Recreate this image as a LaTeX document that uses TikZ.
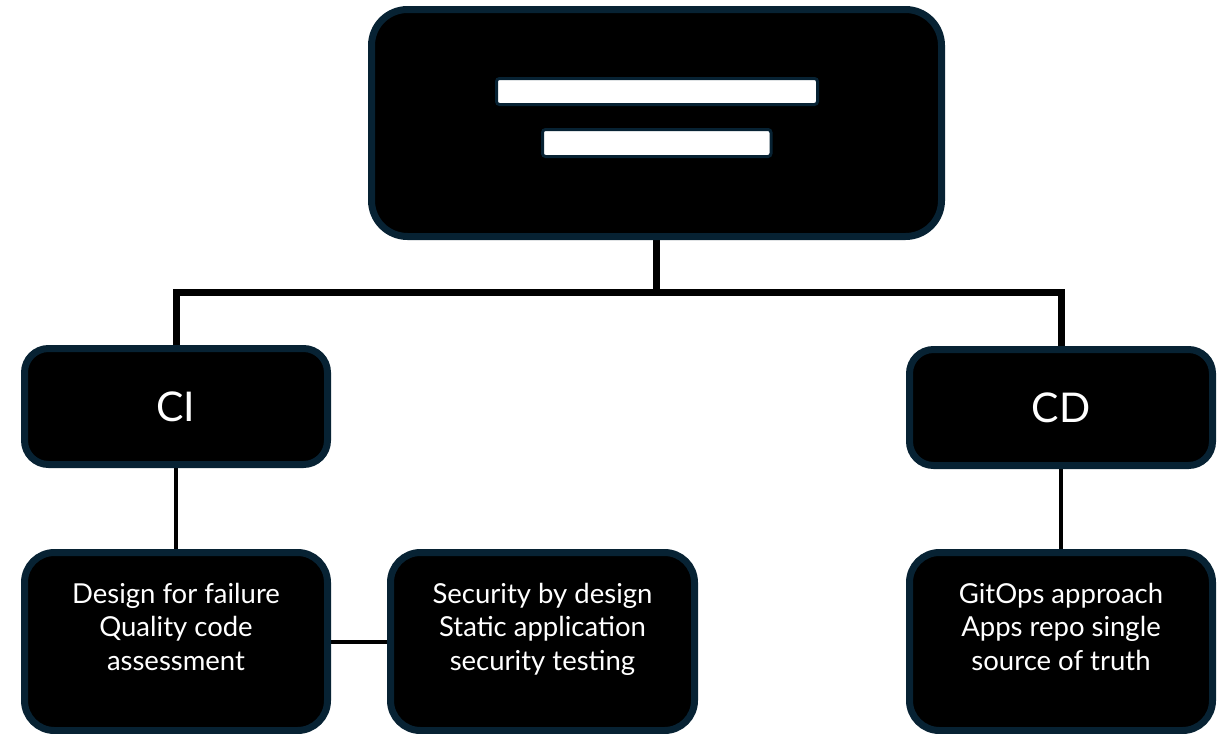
\documentclass[tikz,border=0pt]{standalone}
\usepackage{fontspec}
\setmainfont{Lato}
\usetikzlibrary{backgrounds}
\definecolor{edge}{RGB}{7,34,51}
\begin{document}
\begin{tikzpicture}[x=1pt,y=-1pt,
  panel/.style={draw=edge, fill=black, line width=7pt, rounded corners=#1,
    inner sep=0pt, text=white},
  bar/.style={draw=edge, fill=white, line width=3pt, rounded corners=3pt, inner sep=0pt},
  headtext/.style={font=\fontsize{41}{49}\selectfont},
  note/.style={text=white, align=center, inner sep=0pt, anchor=north,
    font=\fontsize{27.5}{33.5}\selectfont},
  bus/.style={draw=black, line width=7pt},
  link/.style={draw=black, line width=4pt}]
\useasboundingbox (0,0) rectangle (1227,734);

% title panel with two placeholder bars
\node[panel=36pt, minimum width=570pt, minimum height=227pt] (top) at (656.5,123) {};
\node[bar, minimum width=321pt, minimum height=26pt] (bar1) at (657,91.5) {};
\node[bar, minimum width=228.5pt, minimum height=27pt] (bar2) at (656.75,143) {};

% branch headers
\node[panel=24pt, minimum width=303pt, minimum height=116pt, headtext] (ci) at (176,406.5) {CI};
\node[panel=24pt, minimum width=303pt, minimum height=116pt, headtext] (cd) at (1061,407.5) {CD};

% detail panels
\node[panel=30pt, minimum width=303pt, minimum height=178pt] (d1) at (176,641.5) {};
\node[panel=30pt, minimum width=304pt, minimum height=178pt] (d2) at (542.5,641.5) {};
\node[panel=30pt, minimum width=303pt, minimum height=178pt] (d3) at (1061,641.5) {};

\node[note] (d1t) at (176,583) {Design for failure\\Quality code\\assessment};
\node[note] (d2t) at (542.5,583) {Security by design\\Static application\\security testing};
\node[note] (d3t) at (1061,583) {GitOps approach\\Apps repo single\\source of truth};

% connectors
\coordinate (hub) at (656.5,292.5);
\begin{scope}[on background layer]
  \draw[bus] (top.south) -- (hub);
  \draw[bus] (ci.north) |- (hub) -| (cd.north);
  \draw[link] (ci.south) -- (d1.north);
  \draw[link] (d1.east) -- (d2.west);
  \draw[link] (cd.south) -- (d3.north);
\end{scope}
\end{tikzpicture}
\end{document}
